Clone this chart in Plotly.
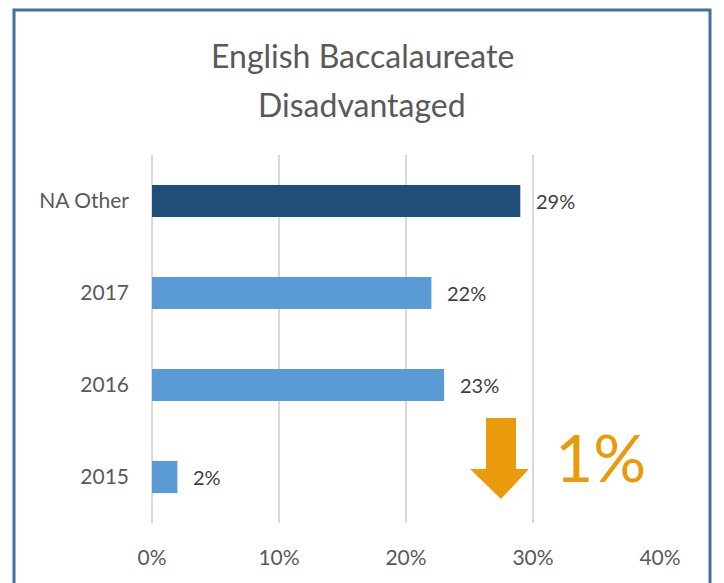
import plotly.graph_objects as go

categories = ["2015", "2016", "2017", "NA Other"]
values = [2, 23, 22, 29]
bar_colors = ["#5B9BD5", "#5B9BD5", "#5B9BD5", "#1F4E79"]
x_ticks = [0, 10, 20, 30, 40]
x_tick_labels = ["0%", "10%", "20%", "30%", "40%"]
title_lines = ["English Baccalaureate", "Disadvantaged"]
change_text = "1%"

FONT = "Lato, 'Open Sans', sans-serif"
GREY = "#595959"
ORANGE = "#EA9B0C"

fig = go.Figure()
fig.add_trace(go.Bar(
    y=categories, x=values, orientation="h",
    marker=dict(color=bar_colors, line=dict(width=0)),
    width=0.35, hoverinfo="skip",
))

for i, v in enumerate(values):
    fig.add_annotation(x=v, y=i, xref="x", yref="y", text=f"{v}%",
                       showarrow=False, xanchor="left", xshift=14,
                       font=dict(family=FONT, size=20, color="#404040"))

# helpers: page pixel -> plot coordinates (plot area spans px 152..660, py 155..523)
def px2x(px):
    return (px - 152) / 12.7

def px2p(px):
    return (px - 152) / 508

def py2p(py):
    return (523 - py) / 368

# title lines
for line, py in zip(title_lines, [56, 105]):
    fig.add_annotation(x=px2p(362), y=py2p(py), xref="paper", yref="paper", text=line,
                       showarrow=False, font=dict(family=FONT, size=32, color=GREY),
                       xanchor="center", yanchor="middle")

# down arrow (decorative)
pts = [(486, 418), (516, 418), (516, 469), (529, 469), (501, 499),
       (470, 469), (486, 469)]
path = "M " + " L ".join(f"{px2x(a):.3f},{py2p(b):.4f}" for a, b in pts) + " Z"
fig.add_shape(type="path", path=path, xref="x", yref="paper",
              fillcolor=ORANGE, line=dict(width=0), layer="above")

fig.add_annotation(x=px2x(600), y=py2p(456), xref="x", yref="paper", text=change_text,
                   showarrow=False, xanchor="center", yanchor="middle",
                   font=dict(family=FONT, size=66, color=ORANGE))

# outer border
fig.add_shape(type="rect", xref="paper", yref="paper",
              x0=px2p(14), x1=px2p(710), y0=py2p(640), y1=py2p(10),
              line=dict(color="#41719C", width=3), fillcolor="rgba(0,0,0,0)")

fig.update_layout(
    width=716, height=575,
    margin=dict(l=144, r=64, t=147, b=60, autoexpand=False),
    paper_bgcolor="white", plot_bgcolor="white",
    showlegend=False,
    font=dict(family=FONT, color=GREY),
    xaxis=dict(range=[0, 40], tickvals=x_ticks, ticktext=x_tick_labels,
               showgrid=True, gridcolor="#D9D9D9", gridwidth=2,
               zeroline=True, zerolinecolor="#D9D9D9", zerolinewidth=2,
               showline=False, ticks="",
               tickfont=dict(family=FONT, size=21, color=GREY),
               ticklabelstandoff=20, fixedrange=True),
    yaxis=dict(type="category", categoryorder="array", categoryarray=categories,
               range=[-0.5, 3.5],
               showgrid=False, zeroline=False, showline=False, ticks="",
               tickfont=dict(family=FONT, size=21, color=GREY),
               ticklabelstandoff=22, fixedrange=True),
)

fig.write_html("out.html")
